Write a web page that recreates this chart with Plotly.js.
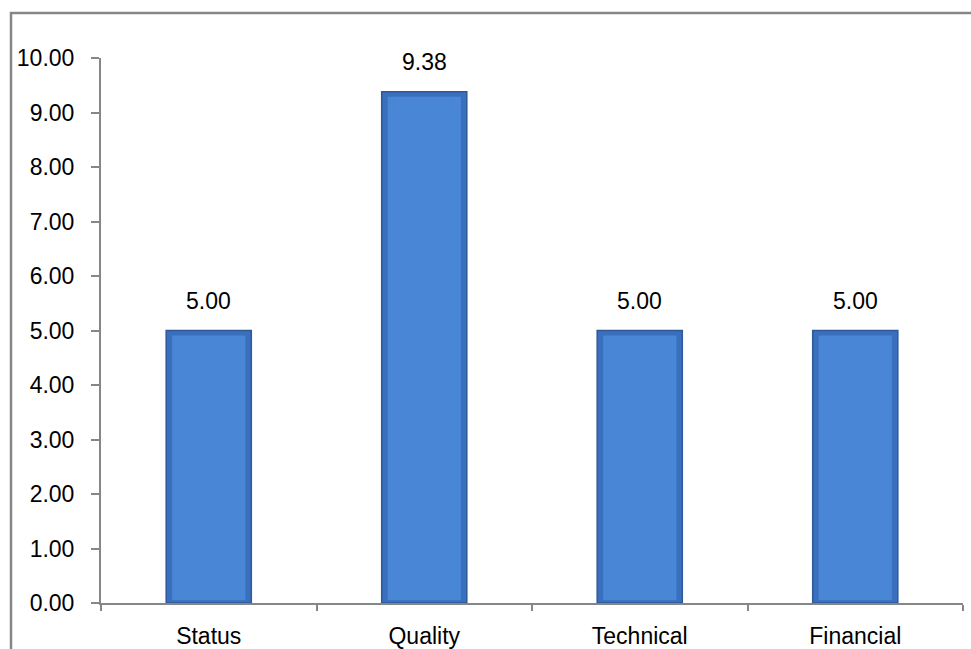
<!DOCTYPE html>
<html>
<head>
<meta charset="utf-8">
<script src="https://cdn.plot.ly/plotly-3.0.1.min.js"></script>
<style>
html,body{margin:0;padding:0;background:#fff;}
#chart{width:971px;height:649px;}
</style>
</head>
<body>
<div id="chart"></div>
<script>
const categories = ["Status", "Quality", "Technical", "Financial"];
const values = [5.00, 9.38, 5.00, 5.00];
const yTickVals = [0,1,2,3,4,5,6,7,8,9,10];
const yTickText = ["0.00","1.00","2.00","3.00","4.00","5.00","6.00","7.00","8.00","9.00","10.00"];

const font = {family: "Liberation Sans, Arial, sans-serif", size: 23, color: "#000"};

const traces = [
  {
    type: "bar",
    x: categories,
    y: values,
    width: 0.395,
    marker: {color: "#3a6fbd", line: {color: "#2c5a99", width: 1.5}},
    hoverinfo: "skip"
  },
  {
    type: "bar",
    x: categories,
    y: values.map(v => v - 0.14),
    base: values.map(() => 0.05),
    width: 0.34,
    marker: {color: "#4a86d6", line: {width: 0}},
    hoverinfo: "skip"
  }
];

const annotations = categories.map((c, i) => ({
  x: c, y: values[i], xref: "x", yref: "y",
  text: values[i].toFixed(2), showarrow: false,
  yanchor: "bottom", yshift: 15, font: font
}));

const layout = {
  width: 971, height: 649,
  margin: {l: 101, r: 8, t: 58, b: 46},
  paper_bgcolor: "#fff", plot_bgcolor: "#fff",
  showlegend: false,
  barmode: "overlay",
  font: font,
  xaxis: {
    type: "category",
    showline: true, linecolor: "#868686", linewidth: 2,
    ticks: "outside", tickson: "boundaries", ticklen: 6, tickcolor: "#868686", tickwidth: 2,
    showgrid: false, zeroline: false,
    tickfont: font, ticklabelstandoff: 11,
    range: [-0.5, 3.5]
  },
  yaxis: {
    range: [0, 10],
    tickvals: yTickVals, ticktext: yTickText,
    showline: true, linecolor: "#868686", linewidth: 2,
    ticks: "outside", ticklen: 8, tickcolor: "#868686", tickwidth: 2,
    showgrid: false, zeroline: false,
    tickfont: font, ticklabelstandoff: 12
  },
  annotations: annotations,
  shapes: [{
    type: "rect", xref: "paper", yref: "paper",
    x0: -0.1044, x1: 1.02, y0: -0.1, y1: 1.0826,
    line: {color: "#868686", width: 2.5}, fillcolor: "rgba(0,0,0,0)", layer: "below"
  }]
};

Plotly.newPlot("chart", traces, layout, {displayModeBar: false, staticPlot: true});
</script>
</body>
</html>
